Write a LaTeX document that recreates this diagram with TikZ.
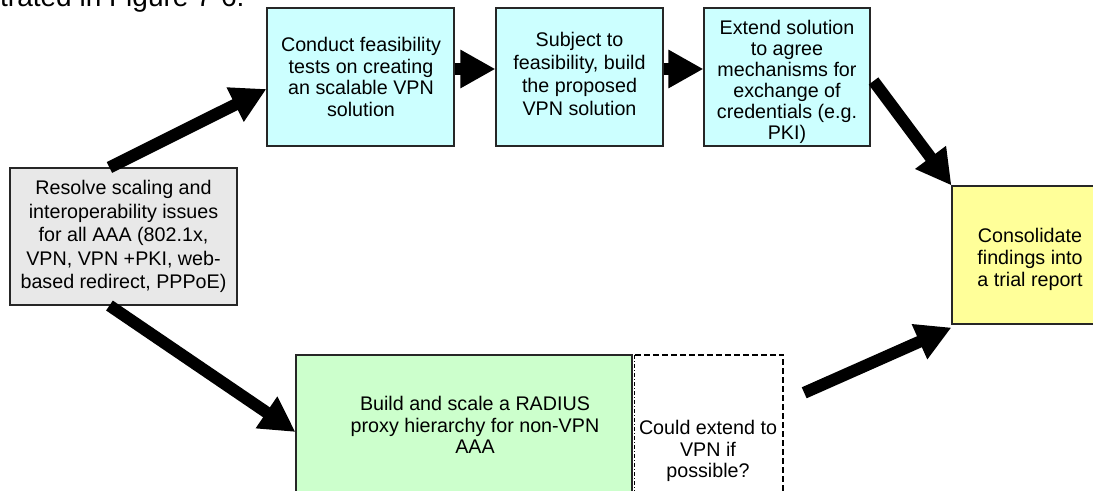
\documentclass[tikz,border=0pt]{standalone}
\usepackage{fontspec}
\setmainfont{Liberation Sans}
\usetikzlibrary{arrows.meta,calc}
\definecolor{cyanbox}{HTML}{CCFFFF}
\definecolor{graybox}{HTML}{E8E8E8}
\definecolor{yellowbox}{HTML}{FFFF99}
\definecolor{greenbox}{HTML}{CCFFCC}
\begin{document}
\begin{tikzpicture}[x=1bp,y=-1bp,
  stepbox/.style={draw=black!85,line width=1.1bp,rectangle,inner sep=0pt},
  bigarrow/.style={line width=12bp,-{Triangle[length=35bp,width=36bp]}},
  boxtext/.style={align=center,inner sep=0pt,font=\fontsize{19.7bp}{21.5bp}\selectfont},
  thickdash/.style={line width=2.2bp,dash pattern=on 6bp off 3bp},
  thindash/.style={line width=0.8bp,dash pattern=on 4bp off 2bp on 1bp off 2bp}]
\useasboundingbox (0,0) rectangle (1093,491);
\clip (0,0) rectangle (1093,491);
% clipped heading line
\node[anchor=base west,inner sep=0pt,font=\fontsize{28bp}{32bp}\selectfont] (heading) at (0,6.8) {trated in Figure 7-6.};
% boxes
\node[stepbox,fill=graybox,minimum width=227bp,minimum height=137bp] (resolve) at (123.5,236.5) {};
\node[stepbox,fill=cyanbox,minimum width=187bp,minimum height=138bp] (conduct) at (360.5,77) {};
\node[stepbox,fill=cyanbox,minimum width=167bp,minimum height=138bp] (subject) at (579.5,77) {};
\node[stepbox,fill=cyanbox,minimum width=166bp,minimum height=138bp] (extend) at (787,77) {};
\node[stepbox,fill=yellowbox,minimum width=156bp,minimum height=138bp] (consolidate) at (1030,255) {};
\node[stepbox,fill=greenbox,minimum width=336bp,minimum height=150bp] (radius) at (464,430) {};
\node[inner sep=0pt,minimum width=148bp,minimum height=150bp] (could) at (709,430) {};
\draw[thickdash] (could.north west) -- (could.north east) -- (could.south east);
\draw[thindash] (could.north west) -- (could.south west);
% texts
\node[boxtext,font=\fontsize{19.7bp}{23.5bp}\selectfont] (resolvetext) at (123.5,236.5)
  {Resolve scaling and\\interoperability issues\\for all AAA (802.1x,\\VPN, VPN +PKI, web-\\based redirect, PPPoE)};
\node[boxtext] (conducttext) at (361,77)
  {Conduct feasibility\\tests on creating\\an scalable VPN\\solution};
\node[boxtext,font=\fontsize{19.7bp}{23bp}\selectfont] (subjecttext) at (579.5,74)
  {Subject to\\feasibility, build\\the proposed\\VPN solution};
\node[boxtext,font=\fontsize{19.7bp}{21bp}\selectfont] (extendtext) at (787,82)
  {Extend solution\\to agree\\mechanisms for\\exchange of\\credentials (e.g.\\PKI)};
\node[boxtext,font=\fontsize{19.7bp}{22bp}\selectfont] (consolidatetext) at (1030,259.5)
  {Consolidate\\findings into\\a trial report};
\node[boxtext] (radiustext) at (475,425)
  {Build and scale a RADIUS\\proxy hierarchy for non-VPN\\AAA};
\node[boxtext] (couldtext) at (708,451) {Could extend to\\VPN if\\possible?};
% connectors
\coordinate (tail6) at ($(could.north east)+(21,38)$);
\draw[bigarrow] ([xshift=100bp]resolve.north west) -- ([yshift=-12bp]conduct.west);
\draw[bigarrow] ([yshift=8bp]conduct.east) -- ([yshift=8bp]subject.west);
\draw[bigarrow] ([yshift=8bp]subject.east) -- ([yshift=8bp]extend.west);
\draw[bigarrow] ([xshift=3bp,yshift=-4bp]extend.east) -- (consolidate.north west);
\draw[bigarrow] ([xshift=100bp]resolve.south west) -- ([yshift=-2bp]radius.west);
\draw[bigarrow] (tail6) -- ([yshift=-3bp]consolidate.south west);
\end{tikzpicture}
\end{document}
